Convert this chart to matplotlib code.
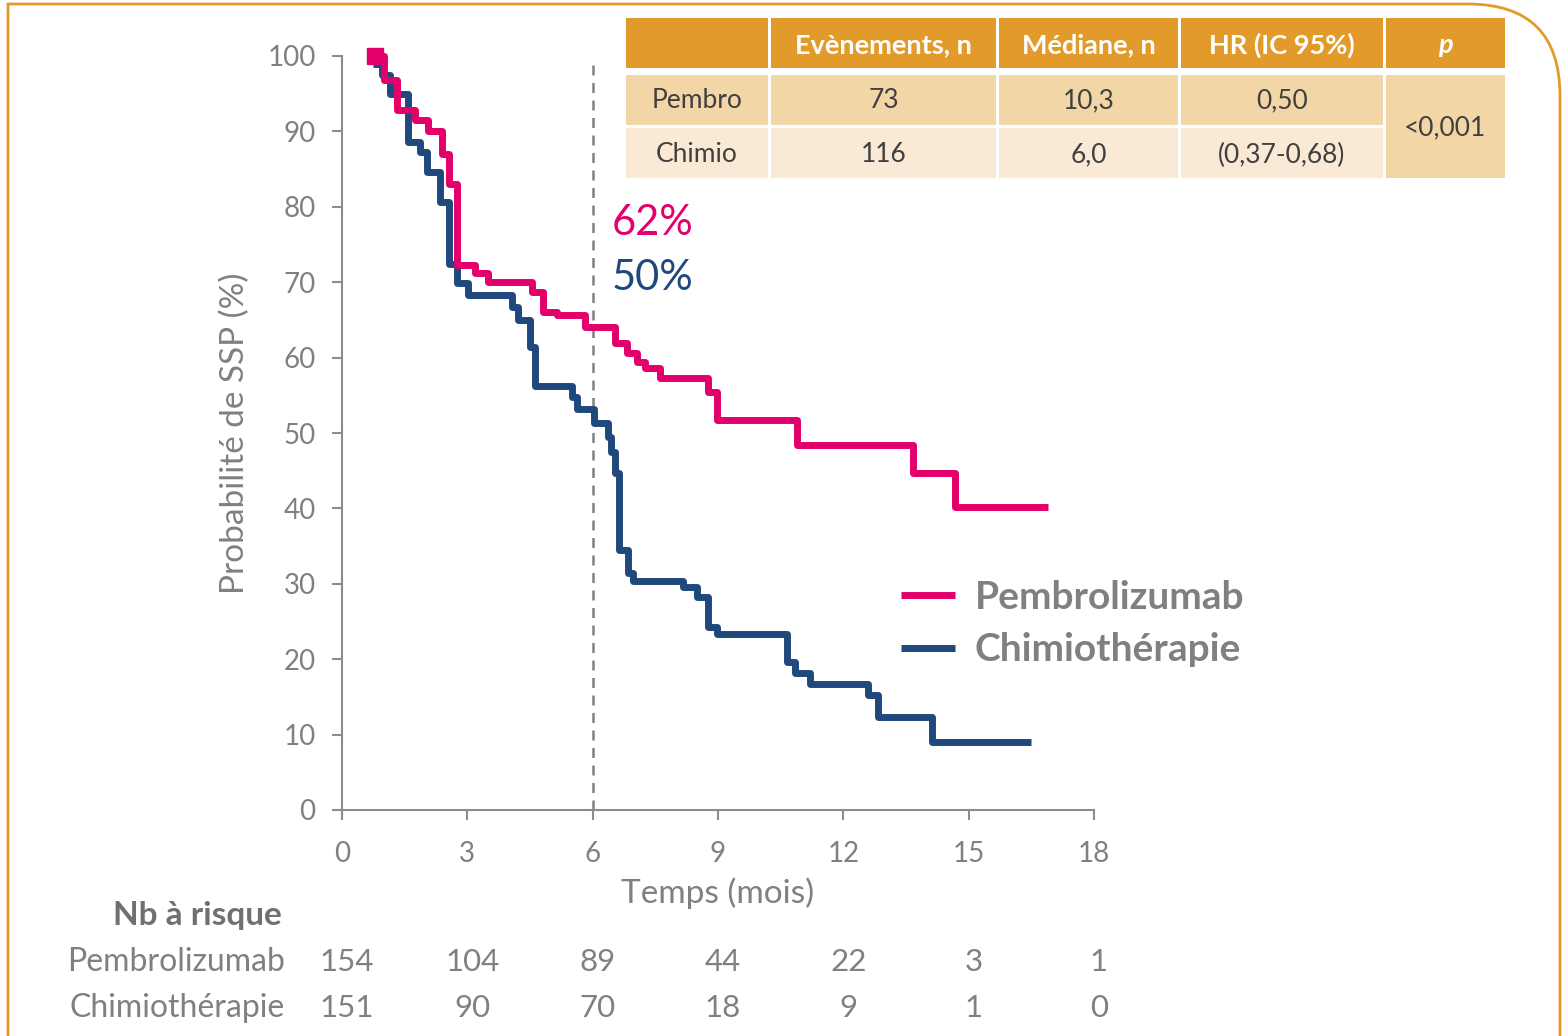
import matplotlib
matplotlib.use("Agg")
import matplotlib.pyplot as plt
from matplotlib.patches import Rectangle, PathPatch
from matplotlib.path import Path
import matplotlib.transforms as mtransforms

plt.rcParams['font.family'] = ['Lato', 'DejaVu Sans']

# ---------------- data ----------------
pembro_t = [0.8, 1.0, 1.32, 1.75, 2.06, 2.39, 2.55, 2.75, 3.18, 3.5, 4.55, 4.81, 5.15, 5.82,
            6.53, 6.82, 7.05, 7.25, 7.6, 8.75, 8.97, 10.9, 13.67, 14.67, 16.9]
pembro_v = [100, 96.8, 92.8, 91.5, 90.0, 87.0, 83.0, 72.3, 71.2, 70.0, 68.7, 66.0, 65.6, 64.0,
            61.9, 60.6, 59.4, 58.6, 57.3, 55.5, 51.7, 48.4, 44.7, 40.2, 40.2]
chemo_t = [0.75, 0.95, 1.15, 1.58, 1.87, 2.03, 2.35, 2.56, 2.75, 3.02, 4.07, 4.22, 4.5, 4.62,
           5.5, 5.62, 6.02, 6.37, 6.43, 6.53, 6.62, 6.85, 6.97, 8.16, 8.5, 8.76, 8.97, 10.65,
           10.84, 11.2, 12.6, 12.83, 14.12, 16.5]
chemo_v = [99, 97.5, 95, 88.6, 87.3, 84.6, 80.6, 72.4, 69.9, 68.3, 66.7, 65.0, 61.4, 56.2,
           54.8, 53.2, 51.3, 49.5, 47.5, 44.7, 34.5, 31.4, 30.4, 29.6, 28.3, 24.3, 23.3, 19.6,
           18.2, 16.7, 15.3, 12.3, 9.0, 9.0]

series_names = ["Pembrolizumab", "Chimiothérapie"]
x_ticks = [0, 3, 6, 9, 12, 15, 18]
y_ticks = [0, 10, 20, 30, 40, 50, 60, 70, 80, 90, 100]
risk_pembro = ["154", "104", "89", "44", "22", "3", "1"]
risk_chemo = ["151", "90", "70", "18", "9", "1", "0"]
pct_labels = ["62%", "50%"]
landmark = 6

table_header = ["", "Evènements, n", "Médiane, n", "HR (IC 95%)", "p"]
table_row1 = ["Pembro", "73", "10,3", "0,50"]
table_row2 = ["Chimio", "116", "6,0", "(0,37-0,68)"]
p_value = "<0,001"

# ---------------- style ----------------
PINK = "#E4006A"
BLUE = "#1F497D"
GRAY = "#808080"
DARK = "#404040"
ORANGE = "#E29A2B"
ROW1 = "#F3D6A6"
ROW2 = "#FAE9D4"

W, H = 1562, 1036
fig = plt.figure(figsize=(W / 100, H / 100), dpi=100)
fig.patch.set_facecolor("white")

ax = fig.add_axes([342 / W, 1 - 810 / H, (1094 - 342) / W, (810 - 56) / H])
ax.set_xlim(0, 18)
ax.set_ylim(0, 100)
for s in ["top", "right"]:
    ax.spines[s].set_visible(False)
for s in ["left", "bottom"]:
    ax.spines[s].set_color("#8C8C8C")
    ax.spines[s].set_linewidth(1.5)
ax.set_xticks(x_ticks)
ax.set_yticks(y_ticks)
ax.tick_params(axis="both", colors="#8C8C8C", labelcolor=GRAY, labelsize=20,
               length=7, width=1.5)
ax.tick_params(axis="x", pad=15)
ax.tick_params(axis="y", pad=12)
ax.set_ylabel("Probabilité de SSP (%)", fontsize=24, color=GRAY, labelpad=12)
ax.set_xlabel("Temps (mois)", fontsize=24, color=GRAY, labelpad=8)

ax.axvline(landmark, ymax=0.995, color=GRAY, lw=1.8, ls=(0, (4, 3)), zorder=1)

l1, = ax.plot(pembro_t, pembro_v, drawstyle="steps-post", color=PINK, lw=5,
              solid_joinstyle="round", solid_capstyle="butt", zorder=3, clip_on=False,
              label=series_names[0])
l2, = ax.plot(chemo_t, chemo_v, drawstyle="steps-post", color=BLUE, lw=5,
              solid_joinstyle="round", solid_capstyle="butt", zorder=2, clip_on=False,
              label=series_names[1])
ax.plot([pembro_t[0]], [pembro_v[0]], marker="s", ms=11, color=PINK, zorder=4, clip_on=False)

leg = ax.legend(handles=[l1, l2], loc="upper left",
                bbox_to_anchor=(889 / W, 1 - 568 / H), bbox_transform=fig.transFigure,
                frameon=False, handlelength=1.4, handletextpad=0.5, labelspacing=0.45,
                borderaxespad=0, borderpad=0.3,
                prop={"weight": "bold", "size": 28})
for t in leg.get_texts():
    t.set_color(GRAY)

ax.text(6.45, 77.8, pct_labels[0], color=PINK, fontsize=30, va="center", ha="left")
ax.text(6.45, 70.5, pct_labels[1], color=BLUE, fontsize=30, va="center", ha="left")

# ---------------- overlay (pixel coordinates) ----------------
ov = fig.add_axes([0, 0, 1, 1], facecolor="none")
ov.set_xlim(0, W)
ov.set_ylim(H, 0)
ov.axis("off")

# frame with rounded top-right corner
r = 92
verts = [(8, H + 5), (8, 4), (1560 - r, 4), (1560, 4), (1560, 4 + r), (1560, H + 5)]
codes = [Path.MOVETO, Path.LINETO, Path.LINETO, Path.CURVE3, Path.CURVE3, Path.LINETO]
ov.add_patch(PathPatch(Path(verts, codes), fill=False, edgecolor=ORANGE, lw=2))

# table
cols = [(626, 768), (771, 996), (999, 1178), (1181, 1383), (1386, 1505)]
hdr = (18, 68)
r1 = (75, 125)
r2 = (128, 178)
for i, (x0, x1) in enumerate(cols):
    ov.add_patch(Rectangle((x0, hdr[0]), x1 - x0, hdr[1] - hdr[0], color=ORANGE, lw=0))
    txt = table_header[i]
    if txt:
        ov.text((x0 + x1) / 2, (hdr[0] + hdr[1]) / 2 + 2, txt, color="white",
                fontsize=19.5, fontweight="bold", ha="center", va="center",
                style="italic" if txt == "p" else "normal")
    if i < 4:
        ov.add_patch(Rectangle((x0, r1[0]), x1 - x0, r1[1] - r1[0], color=ROW1, lw=0))
        ov.add_patch(Rectangle((x0, r2[0]), x1 - x0, r2[1] - r2[0], color=ROW2, lw=0))
        ov.text((x0 + x1) / 2, (r1[0] + r1[1]) / 2 + 1, table_row1[i], color=DARK,
                fontsize=19, ha="center", va="center")
        ov.text((x0 + x1) / 2, (r2[0] + r2[1]) / 2 + 2, table_row2[i], color=DARK,
                fontsize=19, ha="center", va="center")
    else:
        ov.add_patch(Rectangle((x0, r1[0]), x1 - x0, r2[1] - r1[0], color=ROW1, lw=0))
        ov.text((x0 + x1) / 2, (r1[0] + r2[1]) / 2 + 1, p_value, color=DARK,
                fontsize=19, ha="center", va="center")

# risk table
bt = mtransforms.blended_transform_factory(ax.transData, ov.transData)
ov.text(197, 916, "Nb à risque", color="#707070", fontsize=24, fontweight="bold",
        ha="center", va="center")
ov.text(285, 962, series_names[0], color=GRAY, fontsize=23, ha="right", va="center")
ov.text(285, 1008, series_names[1], color=GRAY, fontsize=23, ha="right", va="center")
for xv, a, b in zip(x_ticks, risk_pembro, risk_chemo):
    ov.text(xv + 0.12, 962, a, color=GRAY, fontsize=22.5, ha="center", va="center", transform=bt)
    ov.text(xv + 0.12, 1008, b, color=GRAY, fontsize=22.5, ha="center", va="center", transform=bt)

fig.savefig("out.png", dpi=100, facecolor="white")
